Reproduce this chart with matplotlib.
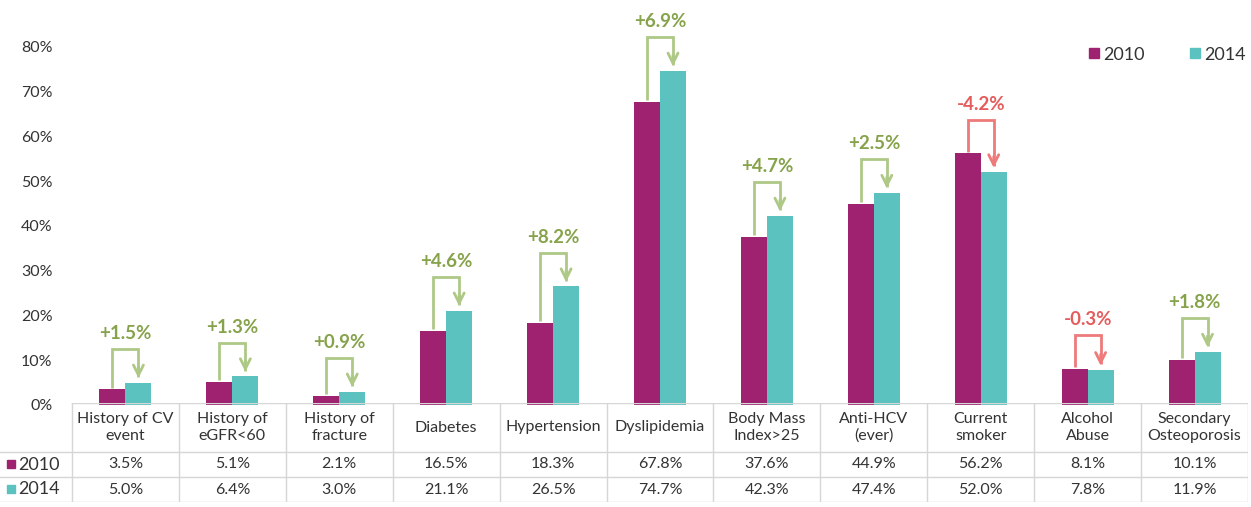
import matplotlib
matplotlib.use("Agg")
import matplotlib.pyplot as plt
from matplotlib.lines import Line2D

plt.rcParams['font.family'] = ['Lato', 'DejaVu Sans']

# data
categories = ["History of CV\nevent", "History of\neGFR<60", "History of\nfracture",
              "Diabetes", "Hypertension", "Dyslipidemia", "Body Mass\nIndex>25",
              "Anti-HCV\n(ever)", "Current\nsmoker", "Alcohol\nAbuse",
              "Secondary\nOsteoporosis"]
v2010 = [3.5, 5.1, 2.1, 16.5, 18.3, 67.8, 37.6, 44.9, 56.2, 8.1, 10.1]
v2014 = [5.0, 6.4, 3.0, 21.1, 26.5, 74.7, 42.3, 47.4, 52.0, 7.8, 11.9]
years = ["2010", "2014"]
yticks = [0, 10, 20, 30, 40, 50, 60, 70, 80]

c2010 = '#9E2270'
c2014 = '#5CC2BF'
green_line = '#AEC886'
green_text = '#86A24A'
red_line = '#EE7A7A'
red_text = '#E45C5C'
txt = '#333333'
grid_c = '#D6D6D6'

W, H = 1251, 507
fig = plt.figure(figsize=(W / 100, H / 100), dpi=100)

# layout in pixels
x_left, x_right = 72, 1248
y_zero, y_top = 405, 24.6
ax = fig.add_axes([x_left / W, 1 - y_zero / H, (x_right - x_left) / W, (y_zero - y_top) / H])

n = len(categories)
x = list(range(n))
bw = 0.243
ax.bar([i - bw / 2 for i in x], v2010, width=bw, color=c2010, zorder=2)
ax.bar([i + bw / 2 for i in x], v2014, width=bw, color=c2014, zorder=2)
ax.set_xlim(-0.5, n - 0.5)
ax.set_ylim(0, 85)
ax.set_xticks([])
ax.set_yticks(yticks)
ax.set_yticklabels([f"{t}%" for t in yticks])
ax.tick_params(axis='y', length=0, pad=14, labelsize=11.5, labelcolor=txt)
for s in ax.spines.values():
    s.set_visible(False)

# change brackets
for i in x:
    a, b = v2010[i], v2014[i]
    d = round(b - a, 1)
    lc = green_line if d >= 0 else red_line
    tc = green_text if d >= 0 else red_text
    top = max(a, b) + 7.5
    x0, x1 = i - bw / 2, i + bw / 2
    ax.plot([x0, x0, x1, x1], [a + 0.4, top, top, b + 1.3], color=lc, lw=2,
            zorder=3, solid_joinstyle='miter', solid_capstyle='butt', clip_on=False)
    ax.annotate("", xy=(x1, b + 1.0), xytext=(x1, b + 3.5),
                arrowprops=dict(arrowstyle='->', color=lc, lw=2,
                                shrinkA=0, shrinkB=0, mutation_scale=18),
                zorder=3, annotation_clip=False)
    ax.text(i, top + 1.6, f"{d:+.1f}%", ha='center', va='bottom', fontsize=13.5,
            fontweight='bold', color=tc, clip_on=False)

# legend
handles = [Line2D([], [], marker='s', ls='', color=c, markersize=7) for c in (c2010, c2014)]
ax.legend(handles, years, loc='upper right', bbox_to_anchor=(1.012, 0.985), ncol=2,
          frameon=False, fontsize=13, handletextpad=0.1, columnspacing=2.4,
          handlelength=0.8, labelcolor=txt)

# table underneath
t_top, t_bot = 403, 502
tab = fig.add_axes([0, 1 - t_bot / H, x_right / W, (t_bot - t_top) / H])
col_w = (x_right - x_left) / n
tab.set_xlim(-0.5 - x_left / col_w, n - 0.5)
tab.set_ylim(t_bot - t_top, 0)
tab.axis('off')
r1, r2, r3 = 49, 74, 99
xl = -0.5 - x_left / col_w
tab.plot([-0.5, n - 0.5], [0, 0], color=grid_c, lw=1)
for yy in (r1, r2, r3):
    tab.plot([xl, n - 0.5], [yy, yy], color=grid_c, lw=1)
for k in range(n + 1):
    tab.plot([k - 0.5, k - 0.5], [0, r3], color=grid_c, lw=1)

for i, name in enumerate(categories):
    tab.text(i, r1 / 2, name, ha='center', va='center', fontsize=11.5,
             color=txt, linespacing=1.2)
    tab.text(i, (r1 + r2) / 2, f"{v2010[i]:.1f}%", ha='center', va='center',
             fontsize=11.5, color=txt)
    tab.text(i, (r2 + r3) / 2, f"{v2014[i]:.1f}%", ha='center', va='center',
             fontsize=11.5, color=txt)

for yr, c, yy in ((years[0], c2010, (r1 + r2) / 2), (years[1], c2014, (r2 + r3) / 2)):
    tab.plot([xl + 0.1], [yy - 1], marker='s', color=c, markersize=6)
    tab.text(xl + 0.17, yy, yr, ha='left', va='center', fontsize=13, color=txt)

fig.savefig("out.png", dpi=100)
